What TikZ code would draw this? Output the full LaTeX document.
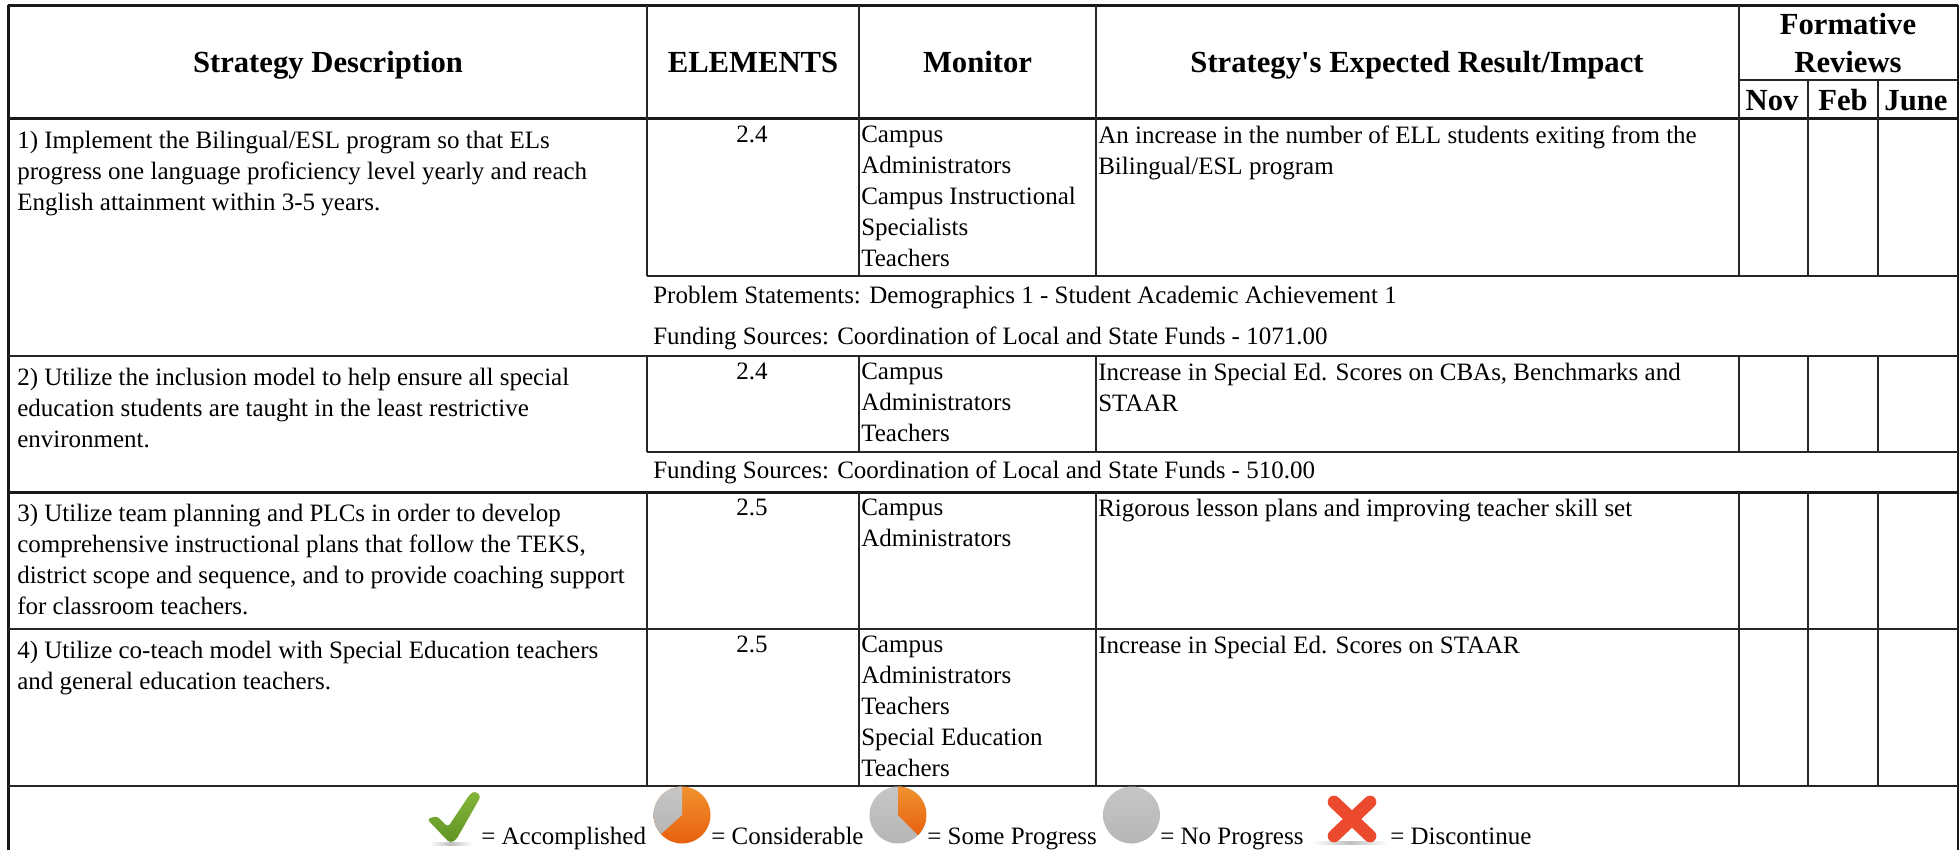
\documentclass[tikz,border=0pt]{standalone}
\usepackage{fontspec}
\setmainfont{Liberation Serif}
\definecolor{ortop}{HTML}{F0922F}
\definecolor{orbot}{HTML}{E8600F}
\definecolor{grtop}{HTML}{C6C6C6}
\definecolor{grbot}{HTML}{B6B6B6}
\definecolor{chktop}{HTML}{86B53A}
\definecolor{chkbot}{HTML}{5F9425}
\definecolor{crsmain}{HTML}{EC4A2E}
\tikzset{
  x=0.75pt,y=-0.75pt,
  gridline/.style={draw=black!85,line width=1.5pt},
  frameline/.style={draw=black!90,line width=2.25pt},
  body/.style={anchor=north west,inner sep=0pt,font=\fontsize{18.75pt}{23.25pt}\selectfont,align=left},
  bodyc/.style={anchor=north,inner sep=0pt,font=\fontsize{18.75pt}{23.25pt}\selectfont,align=center},
  head/.style={anchor=base,inner sep=0pt,font=\fontsize{23pt}{28.5pt}\selectfont\bfseries,align=center},
  legend/.style={anchor=base west,inner sep=0pt,font=\fontsize{18.75pt}{23.25pt}\selectfont},
  orangefill/.style={top color=ortop,bottom color=orbot},
  grayfill/.style={top color=grtop,bottom color=grbot},
  iconshadow/.style={left color=white,right color=white,middle color=black!25},
}
\begin{document}
\begin{tikzpicture}
\useasboundingbox (0,0) rectangle (1959,850);
% rules
\draw[frameline] (8,5) -- (1958,5);
\draw[frameline] (8,118) -- (1958,118);
\draw[frameline] (8,5) -- (8,850);
\draw[frameline] (1958,5) -- (1958,850);
\draw[gridline] (647,276) -- (1958,276);
\draw[gridline] (8,356) -- (1958,356);
\draw[gridline] (647,452) -- (1958,452);
\draw[frameline] (8,492) -- (1958,492);
\draw[gridline] (8,629) -- (1958,629);
\draw[gridline] (8,786) -- (1958,786);
\draw[gridline] (1739,80) -- (1958,80);
\foreach \x in {647,859,1096,1739}{
  \draw[gridline] (\x,5) -- (\x,276);
  \draw[gridline] (\x,356) -- (\x,452);
  \draw[gridline] (\x,492) -- (\x,786);
}
\foreach \x in {1808,1878}{
  \draw[gridline] (\x,80) -- (\x,276);
  \draw[gridline] (\x,356) -- (\x,452);
  \draw[gridline] (\x,492) -- (\x,786);
}
% headers
\node[head] (h1) at (328,72) {Strategy Description};
\node[head] (h2) at (753,72) {ELEMENTS};
\node[head] (h3) at (977.5,72) {Monitor};
\node[head] (h4) at (1417,72) {Strategy\textquotesingle s Expected Result/Impact};
\node[head] (h5a) at (1848,34) {Formative};
\node[head] (h5b) at (1848,72) {Reviews};
\node[head] (h6) at (1772,110) {Nov};
\node[head] (h7) at (1843,110) {Feb};
\node[head] (h8) at (1916,110) {June};
% row 1
\node[body] (a1) at (17,131) {1) Implement the Bilingual/ESL program so that ELs\\progress one language proficiency level yearly and reach\\English attainment within 3-5 years.};
\node[bodyc] (b1) at (752,126) {2.4};
\node[body] (c1) at (861,126) {Campus\\Administrators\\Campus Instructional\\Specialists\\Teachers};
\node[body] (d1) at (1098,126) {An increase in the number of ELL students exiting from the\\Bilingual/ESL program};
\node[body] (e1) at (653,286) {Problem Statements: Demographics 1 - Student Academic Achievement 1};
\node[body] (e2) at (653,327) {Funding Sources: Coordination of Local and State Funds - 1071.00};
% row 2
\node[body] (a2) at (17,368) {2) Utilize the inclusion model to help ensure all special\\education students are taught in the least restrictive\\environment.};
\node[bodyc] (b2) at (752,363) {2.4};
\node[body] (c2) at (861,363) {Campus\\Administrators\\Teachers};
\node[body] (d2) at (1098,363) {Increase in Special Ed. Scores on CBAs, Benchmarks and\\STAAR};
\node[body] (e3) at (653,461) {Funding Sources: Coordination of Local and State Funds - 510.00};
% row 3
\node[body] (a3) at (17,504) {3) Utilize team planning and PLCs in order to develop\\comprehensive instructional plans that follow the TEKS,\\district scope and sequence, and to provide coaching support\\for classroom teachers.};
\node[bodyc] (b3) at (752,499) {2.5};
\node[body] (c3) at (861,499) {Campus\\Administrators};
\node[body] (d3) at (1098,499) {Rigorous lesson plans and improving teacher skill set};
% row 4
\node[body] (a4) at (17,641) {4) Utilize co-teach model with Special Education teachers\\and general education teachers.};
\node[bodyc] (b4) at (752,636) {2.5};
\node[body] (c4) at (861,636) {Campus\\Administrators\\Teachers\\Special Education\\Teachers};
\node[body] (d4) at (1098,636) {Increase in Special Ed. Scores on STAAR};
% legend
\shade[iconshadow] (430,842.5) rectangle (472,845);
\shade[top color=chktop,bottom color=chkbot,rounded corners=2.5pt]
  (427,819) -- (437,816) -- (448,827) -- (470,794) -- (475,791) -- (481,796) -- (456,840) -- (450,843) -- (445,838) -- cycle;
\node[legend] (l1) at (481,844) {= Accomplished};
\shade[orangefill] (682,815) circle (28.5);
\shade[grayfill] (682,815) -- (682,786.5) arc (-90:-222:28.5) -- cycle;
\node[legend] (l2) at (711,844) {= Considerable};
\shade[grayfill] (898,815) circle (28.5);
\shade[orangefill] (898,815) -- (898,786.5) arc (-90:45:28.5) -- cycle;
\node[legend] (l3) at (927,844) {= Some Progress};
\shade[grayfill] (1131.5,815) circle (28.5);
\node[legend] (l4) at (1160,844) {= No Progress};
\shade[iconshadow] (1312,841.5) rectangle (1388,844);
\draw[crsmain,line width=9.5pt,line cap=round] (1334,802) -- (1370,836) (1370,802) -- (1334,836);
\node[legend] (l5) at (1390,844) {= Discontinue};
\end{tikzpicture}
\end{document}
